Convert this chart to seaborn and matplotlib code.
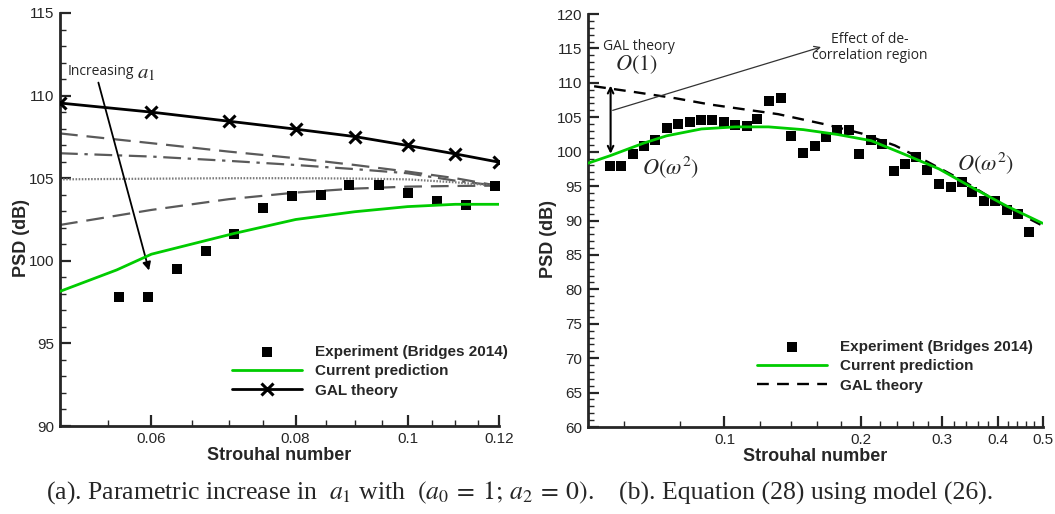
import numpy as np
import pandas as pd
import seaborn as sns
import matplotlib.pyplot as plt
from matplotlib.ticker import FixedLocator, NullFormatter

# ---- data ----
# (a) parametric increase in a1
st_exp_a = [0.0562, 0.0596, 0.0631, 0.0669, 0.0708, 0.0750, 0.0794, 0.0841,
            0.0890, 0.0944, 0.1000, 0.1060, 0.1124, 0.1190]
psd_exp_a = [97.8, 97.8, 99.5, 100.6, 101.6, 103.2, 103.9, 104.0,
             104.6, 104.6, 104.1, 103.6, 103.4, 104.5]

st_cur_a = [0.050, 0.056, 0.060, 0.0707, 0.080, 0.090, 0.100, 0.110, 0.120]
psd_cur_a = [98.15, 99.45, 100.4, 101.65, 102.5, 102.97, 103.28, 103.42, 103.42]

st_gal_a = [0.05, 0.06, 0.07, 0.08, 0.09, 0.10, 0.11, 0.12]
psd_gal_a = [109.55, 109.0, 108.45, 107.97, 107.52, 106.98, 106.47, 105.97]

st_a1 = [0.05, 0.06, 0.07, 0.08, 0.09, 0.10, 0.11, 0.12]
psd_a1_1 = [107.71, 107.12, 106.61, 106.21, 105.8, 105.4, 105.0, 104.53]
psd_a1_2 = [106.51, 106.31, 106.05, 105.8, 105.55, 105.3, 104.85, 104.53]
psd_a1_3 = [104.93, 104.97, 105.0, 105.0, 104.98, 104.93, 104.75, 104.53]
psd_a1_4 = [102.17, 103.08, 103.73, 104.13, 104.37, 104.49, 104.53, 104.55]

# (b) equation (28) using model (26)
st_exp_b = [0.0559, 0.0592, 0.0628, 0.0665, 0.0703, 0.0746, 0.0790, 0.0838,
            0.0888, 0.0940, 0.0996, 0.1055, 0.1120, 0.1180, 0.1250, 0.1330,
            0.1400, 0.1490, 0.1580, 0.1670, 0.1770, 0.1880, 0.1980, 0.2100,
            0.2220, 0.2360, 0.2490, 0.2640, 0.2790, 0.2960, 0.3140, 0.3320,
            0.3500, 0.3720, 0.3940, 0.4170, 0.4410, 0.4670]
psd_exp_b = [97.95, 97.95, 99.6, 100.76, 101.73, 103.38, 104.05, 104.25,
             104.63, 104.63, 104.25, 103.86, 103.67, 104.73, 107.3, 107.8,
             102.3, 99.75, 100.85, 102.1, 103.2, 103.1, 99.65, 101.73,
             101.05, 97.17, 98.14, 99.2, 97.28, 95.28, 94.8, 95.57,
             94.16, 92.9, 92.9, 91.55, 90.88, 88.26]

st_cur_b = [0.05, 0.056, 0.0665, 0.0746, 0.089, 0.1055, 0.125, 0.149,
            0.177, 0.21, 0.249, 0.296, 0.35, 0.417, 0.5]
psd_cur_b = [98.3, 99.4, 101.25, 102.3, 103.3, 103.6, 103.6, 103.2,
             102.5, 101.6, 99.6, 97.5, 94.8, 92.1, 89.6]

st_gal_b = [0.0517, 0.0636, 0.0782, 0.093, 0.1312, 0.167, 0.2, 0.237,
            0.28, 0.334, 0.41, 0.495]
psd_gal_b = [109.5, 108.65, 107.75, 106.85, 105.45, 103.95, 102.65, 100.9,
             98.5, 95.8, 92.2, 89.4]

xticks_a = [0.06, 0.08, 0.1, 0.12]
xticklabels_a = ['0.06', '0.08', '0.1', '0.12']
xminor_a = [0.055, 0.065, 0.07, 0.075, 0.085, 0.09, 0.095, 0.105, 0.11, 0.115]
xticks_b = [0.1, 0.2, 0.3, 0.4, 0.5]
xticklabels_b = ['0.1', '0.2', '0.3', '0.4', '0.5']
xminor_b = [0.06, 0.08, 0.12, 0.14, 0.16, 0.18, 0.22, 0.24, 0.26, 0.28,
            0.32, 0.34, 0.36, 0.38, 0.42, 0.44, 0.46, 0.48]

GREEN = '#00cc00'
GREY = '#5a5a5a'

sns.set_style('ticks')
plt.rcParams['font.family'] = ['Liberation Sans', 'DejaVu Sans']
plt.rcParams['mathtext.fontset'] = 'stix'

fig = plt.figure(figsize=(10.55, 5.14), dpi=100)
W, H = 1055, 514
ax1 = fig.add_axes([60 / W, (H - 426) / H, 439 / W, 413 / H])
ax2 = fig.add_axes([587.5 / W, (H - 427) / H, 455 / W, 413 / H])

# ---- panel (a) ----
for psd, ls, col in [(psd_a1_1, (0, (8, 4)), GREY),
                     (psd_a1_2, (0, (8, 3, 1.5, 3)), GREY),
                     (psd_a1_3, (0, (0.7, 0.7)), '#7a7a7a'),
                     (psd_a1_4, (0, (8, 4)), GREY)]:
    sns.lineplot(x=st_a1, y=psd, ax=ax1, color=col, lw=1.6, linestyle=ls,
                 legend=False, zorder=2)

sns.scatterplot(x=st_exp_a, y=psd_exp_a, ax=ax1, marker='s', s=45, color='k',
                linewidth=0, label='Experiment (Bridges 2014)', zorder=3)
sns.lineplot(x=st_cur_a, y=psd_cur_a, ax=ax1, color=GREEN, lw=2.0,
             label='Current prediction', zorder=4)
sns.lineplot(x=st_gal_a, y=psd_gal_a, ax=ax1, color='k', lw=2.0, marker='x',
             markersize=8, markeredgewidth=2.2, markeredgecolor='k',
             label='GAL theory', zorder=4)

ann_font = ['Open Sans', 'DejaVu Sans']
ax1.annotate('', xy=(0.0598, 99.25), xytext=(0.0539, 110.95),
             arrowprops=dict(arrowstyle='-|>', color='k', lw=1.3,
                             mutation_scale=12))
ax1.text(0.0508, 111.45, 'Increasing', fontsize=10, family=ann_font,
         va='center', ha='left')
ax1.text(0.0583, 111.35, '$a_1$', fontsize=15, va='center', ha='left')

# ---- panel (b) ----
sns.lineplot(x=st_gal_b, y=psd_gal_b, ax=ax2, color='k', lw=1.7,
             linestyle=(0, (5, 3.5)), label='GAL theory', zorder=2)
sns.scatterplot(x=st_exp_b, y=psd_exp_b, ax=ax2, marker='s', s=45, color='k',
                linewidth=0, label='Experiment (Bridges 2014)', zorder=3)
sns.lineplot(x=st_cur_b, y=psd_cur_b, ax=ax2, color=GREEN, lw=2.0,
             label='Current prediction', zorder=4)

ax2.annotate('', xy=(0.0562, 109.6), xytext=(0.0562, 99.7),
             arrowprops=dict(arrowstyle='<->', color='k', lw=1.5,
                             shrinkA=0, shrinkB=0))
ax2.annotate('', xy=(0.163, 115.2), xytext=(0.0568, 106.0),
             arrowprops=dict(arrowstyle='->', color='#333333', lw=0.9,
                             shrinkA=0, shrinkB=0))
ax2.text(0.0542, 115.25, 'GAL theory', fontsize=10, family=ann_font,
         va='center', ha='left')
ax2.text(0.209, 115.1, 'Effect of de-\ncorrelation region', fontsize=10,
         family=ann_font, va='center', ha='center', multialignment='center',
         linespacing=1.1)
ax2.text(0.0575, 112.6, r'$O\left(1\right)$', fontsize=16, va='center', ha='left')
ax2.text(0.0658, 97.8, r'$O\left(\omega^2\right)$', fontsize=16, va='center', ha='left')
ax2.text(0.324, 98.3, r'$O\left(\omega^2\right)$', fontsize=16, va='center', ha='left')

# ---- axes styling ----
for ax, xlim, ylim, xt, xtl, xm in [
        (ax1, (0.05, 0.12), (90, 115), xticks_a, xticklabels_a, xminor_a),
        (ax2, (0.05, 0.5), (60, 120), xticks_b, xticklabels_b, xminor_b)]:
    ax.set_xscale('log')
    ax.set_xlim(*xlim)
    ax.set_ylim(*ylim)
    ax.set_xticks(xt)
    ax.set_xticklabels(xtl)
    ax.xaxis.set_minor_locator(FixedLocator(xm))
    ax.xaxis.set_minor_formatter(NullFormatter())
    ax.set_yticks(np.arange(ylim[0], ylim[1] + 1, 5))
    ax.yaxis.set_minor_locator(FixedLocator(np.arange(ylim[0], ylim[1] + 1, 1)))
    ax.tick_params(which='major', direction='in', length=8, width=1.6,
                   labelsize=11, pad=4)
    ax.tick_params(which='minor', direction='in', length=4, width=1.0)
    sns.despine(ax=ax)
    for s in ['left', 'bottom']:
        ax.spines[s].set_linewidth(2.0)
    ax.set_xlabel('Strouhal number', fontsize=13, fontweight='bold', labelpad=1)
    ax.set_ylabel('PSD (dB)', fontsize=13, fontweight='bold')
    ax.yaxis.set_label_coords(-0.068, 0.455)

# legends: experiment, prediction, GAL theory
for ax, anchor in [(ax1, (232 / W, (H - 345) / H)), (ax2, (757 / W, (H - 340) / H))]:
    h, l = ax.get_legend_handles_labels()
    order = [l.index('Experiment (Bridges 2014)'), l.index('Current prediction'),
             l.index('GAL theory')]
    ax.legend([h[i] for i in order], [l[i] for i in order], loc='upper left',
              bbox_to_anchor=anchor, bbox_transform=fig.transFigure,
              frameon=False, borderpad=0, borderaxespad=0, handlelength=4.6,
              handletextpad=0.85, labelspacing=0.35, scatterpoints=1,
              prop={'weight': 'bold', 'size': 11})

cap_font = ['Liberation Serif', 'DejaVu Serif']
fig.text(320 / W, 1 - 493 / H,
         r'(a). Parametric increase in  $a_1$ with  '
         r'$\left(a_0\:=\:1;\,a_2\:=\:0\right)$.',
         ha='center', va='center', family=cap_font, fontsize=18.5)
fig.text(806 / W, 1 - 493 / H, '(b). Equation (28) using model (26).',
         ha='center', va='center', family=cap_font, fontsize=18.5)

fig.savefig('out.png', dpi=100)
